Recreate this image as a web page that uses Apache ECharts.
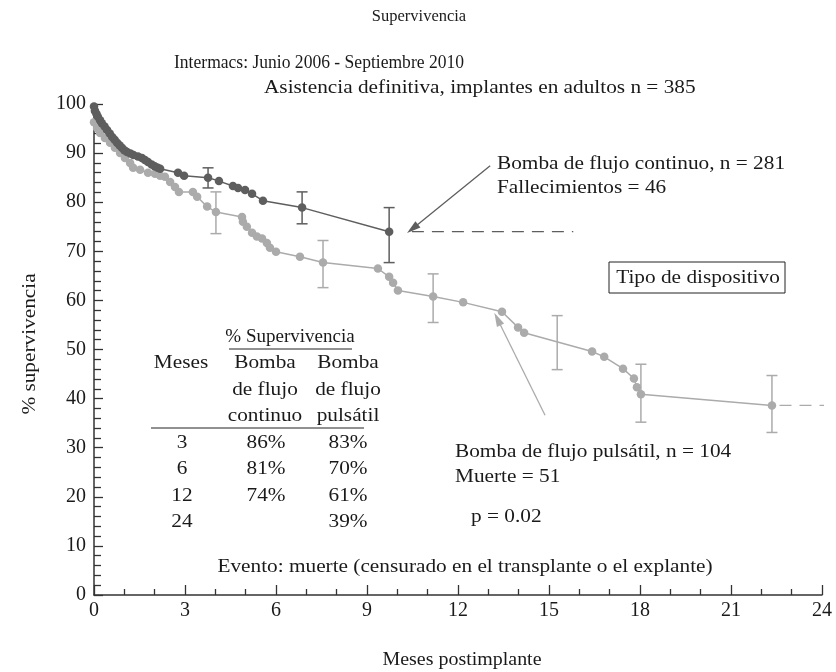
<!DOCTYPE html>
<html>
<head>
<meta charset="utf-8">
<title>Supervivencia</title>
<script src="https://cdn.jsdelivr.net/npm/echarts@6/dist/echarts.min.js"></script>
<style>
  html, body { margin: 0; padding: 0; background: #fff; }
  #chartmain { width: 836px; height: 672px; }
</style>
</head>
<body>
<div id="chartmain"></div>
<script>
// datos
var contX = [0, 0.03, 0.08, 0.13, 0.2, 0.26, 0.35, 0.43, 0.52, 0.6, 0.68, 0.76, 0.84, 0.92, 1.0, 1.09, 1.2, 1.3, 1.45, 1.58, 1.68, 1.78, 1.9, 2.0, 2.1, 2.18, 2.77, 2.97, 3.76, 4.12, 4.58, 4.75, 4.98, 5.21, 5.57, 6.86, 9.73];
var contY = [99.5, 98.6, 98.0, 97.4, 96.7, 96.1, 95.4, 94.7, 94.0, 93.3, 92.7, 92.1, 91.6, 91.1, 90.6, 90.2, 89.9, 89.6, 89.3, 89.0, 88.6, 88.2, 87.7, 87.3, 87.0, 86.8, 86.0, 85.4, 85.0, 84.3, 83.3, 82.9, 82.5, 81.7, 80.3, 78.9, 74.0];

var pulsX = [0, 0.1, 0.2, 0.36, 0.53, 0.69, 0.86, 1.02, 1.19, 1.29, 1.52, 1.78, 2.01, 2.18, 2.34, 2.51, 2.67, 2.8, 3.26, 3.4, 3.73, 4.02, 4.88, 4.91, 5.04, 5.21, 5.37, 5.54, 5.7, 5.8, 6.0, 6.79, 7.55, 9.36, 9.73, 9.86, 10.02, 11.18, 12.17, 13.45, 13.98, 14.18, 16.42, 16.82, 17.44, 17.8, 17.9, 18.03, 22.35];
var pulsY = [96.3, 95.1, 94.1, 93.1, 92.1, 91.1, 90.0, 89.0, 88.0, 87.0, 86.6, 86.0, 85.8, 85.4, 85.2, 84.1, 83.1, 82.1, 82.1, 81.1, 79.1, 78.0, 77.0, 76.0, 75.0, 73.8, 73.0, 72.6, 71.7, 70.7, 69.9, 68.9, 67.7, 66.5, 64.8, 63.6, 62.0, 60.8, 59.6, 57.7, 54.5, 53.4, 49.6, 48.5, 46.1, 44.1, 42.3, 40.9, 38.6];

// intervalos de confianza
var contErrX = [3.76, 6.86, 9.73];
var contErrLo = [82.9, 75.6, 67.7];
var contErrHi = [87.0, 82.1, 78.9];
var pulsErrX = [4.02, 7.55, 11.18, 15.27, 18.03, 22.35];
var pulsErrLo = [73.6, 62.6, 55.5, 45.9, 35.2, 33.1];
var pulsErrHi = [82.1, 72.2, 65.4, 56.9, 47.0, 44.7];

// continuacion discontinua
var contDashX = [10.48, 15.8];
var contDashY = [74.0, 74.0];
var pulsDashX = [22.6, 24.2];
var pulsDashY = [38.6, 38.6];

// flechas [x inicio, y inicio, x fin, y fin]
var contArrow = [13.06, 87.4, 10.5, 74.6];
var pulsArrow = [14.87, 36.6, 13.3, 56.2];

// tabla
var tablaMeses = ['3', '6', '12', '24'];
var tablaContinuo = ['86%', '81%', '74%', ''];
var tablaPulsatil = ['83%', '70%', '61%', '39%'];

var DARK = '#5e5e5e';
var LIGHT = '#ababab';
var FONT = '"Liberation Serif", "DejaVu Serif", serif';
var FS = 19;
var SX = 1.12;   // el texto del original es algo mas ancho

function pares(xs, ys) {
    return xs.map(function (x, i) { return [x, ys[i]]; });
}
function barras(xs, lo, hi) {
    return xs.map(function (x, i) { return [x, lo[i], hi[i]]; });
}

function errorBar(color) {
    return function (params, api) {
        var x = api.value(0);
        var top = api.coord([x, api.value(2)]);
        var bot = api.coord([x, api.value(1)]);
        var w = 5.5;
        var st = { stroke: color, lineWidth: 1.5 };
        return {
            type: 'group',
            children: [
                { type: 'line', shape: { x1: top[0], y1: top[1], x2: bot[0], y2: bot[1] }, style: st },
                { type: 'line', shape: { x1: top[0] - w, y1: top[1], x2: top[0] + w, y2: top[1] }, style: st },
                { type: 'line', shape: { x1: bot[0] - w, y1: bot[1], x2: bot[0] + w, y2: bot[1] }, style: st }
            ]
        };
    };
}

function texto(txt, x, y, align, size, sx) {
    return {
        type: 'text', x: x, y: y,
        scaleX: sx || SX,
        style: { text: txt, font: (size || FS) + 'px ' + FONT, fill: '#1a1a1a', textAlign: align || 'left', textVerticalAlign: 'middle' }
    };
}

var myChart = echarts.init(document.getElementById('chartmain'));

var graficos = [
    texto('Supervivencia', 419, 17, 'center', 17, 0.97),
    texto('Intermacs: Junio 2006 - Septiembre 2010', 174, 63, 'left', 18, 0.975),
    texto('Asistencia definitiva, implantes en adultos n = 385', 264, 88),
    texto('Bomba de flujo continuo, n = 281', 497, 164),
    texto('Fallecimientos = 46', 497, 188),
    texto('Tipo de dispositivo', 698, 278, 'center'),
    { type: 'rect', shape: { x: 609, y: 262, width: 176, height: 31 }, style: { fill: 'none', stroke: '#222', lineWidth: 1 } },
    texto('Bomba de flujo pulsátil, n = 104', 455, 452),
    texto('Muerte = 51', 455, 477),
    texto('p = 0.02', 471, 517),
    texto('Evento: muerte (censurado en el transplante o el explante)', 465, 567, 'center'),
    // nombres de los ejes
    texto('Meses postimplante', 462, 660, 'center', FS, 1.05),
    {
        type: 'text', x: 30, y: 344, rotation: Math.PI / 2, scaleX: SX,
        style: { text: '% supervivencia', font: FS + 'px ' + FONT, fill: '#1a1a1a', textAlign: 'center', textVerticalAlign: 'middle' }
    },
    // cabecera de la tabla
    texto('% Supervivencia', 290, 337, 'center', FS, 1.0),
    { type: 'line', shape: { x1: 229, y1: 349, x2: 352, y2: 349 }, style: { stroke: '#222', lineWidth: 1 } },
    texto('Meses', 181, 363, 'center'),
    texto('Bomba', 265, 363, 'center'),
    texto('de flujo', 265, 390, 'center'),
    texto('continuo', 265, 416, 'center'),
    texto('Bomba', 348, 363, 'center'),
    texto('de flujo', 348, 390, 'center'),
    texto('pulsátil', 348, 416, 'center'),
    { type: 'line', shape: { x1: 151, y1: 428, x2: 364, y2: 428 }, style: { stroke: '#222', lineWidth: 1 } }
];
tablaMeses.forEach(function (m, i) {
    var y = 443 + i * 26.3;
    graficos.push(texto(m, 182, y, 'center'));
    if (tablaContinuo[i]) graficos.push(texto(tablaContinuo[i], 266, y, 'center'));
    graficos.push(texto(tablaPulsatil[i], 348, y, 'center'));
});

var option = {
    backgroundColor: '#fff',
    animation: false,
    textStyle: { fontFamily: FONT },
    grid: { left: 94, right: 14, top: 104, bottom: 77, containLabel: false },
    xAxis: {
        type: 'value',
        min: 0, max: 24, interval: 3,
        axisLine: { onZero: false, lineStyle: { color: '#333', width: 1.5 } },
        axisTick: { inside: true, length: 10, lineStyle: { color: '#333', width: 1.3 } },
        minorTick: { show: true, splitNumber: 3, length: 6, lineStyle: { color: '#333', width: 1.3 } },
        axisLabel: { fontFamily: FONT, fontSize: 20, color: '#1a1a1a', margin: 6 },
        splitLine: { show: false }
    },
    yAxis: {
        type: 'value',
        min: 0, max: 100, interval: 10,
        axisLine: { show: true, onZero: false, lineStyle: { color: '#333', width: 1.5 } },
        axisTick: { show: true, inside: true, length: 9, lineStyle: { color: '#333', width: 1.3 } },
        minorTick: { show: true, splitNumber: 5, length: 7, lineStyle: { color: '#333', width: 1.3 } },
        axisLabel: { fontFamily: FONT, fontSize: 20, color: '#1a1a1a', margin: 8 },
        splitLine: { show: false }
    },
    series: [
        {
            name: 'Bomba de flujo continuo (discontinua)',
            type: 'line',
            data: pares(contDashX, contDashY),
            showSymbol: false,
            clip: false,
            lineStyle: { color: DARK, width: 1.3, type: [12, 8] },
            z: 2
        },
        {
            name: 'Bomba de flujo pulsátil (discontinua)',
            type: 'line',
            data: pares(pulsDashX, pulsDashY),
            showSymbol: false,
            clip: false,
            lineStyle: { color: LIGHT, width: 1.3, type: [12, 8] },
            z: 2
        },
        {
            name: 'IC continuo',
            type: 'custom',
            data: barras(contErrX, contErrLo, contErrHi),
            renderItem: errorBar(DARK),
            encode: { x: 0, y: [1, 2] },
            z: 3
        },
        {
            name: 'IC pulsátil',
            type: 'custom',
            data: barras(pulsErrX, pulsErrLo, pulsErrHi),
            renderItem: errorBar(LIGHT),
            encode: { x: 0, y: [1, 2] },
            z: 3
        },
        {
            name: 'Bomba de flujo pulsátil',
            type: 'line',
            data: pares(pulsX, pulsY),
            symbol: 'circle',
            symbolSize: 8.5,
            itemStyle: { color: LIGHT },
            lineStyle: { color: LIGHT, width: 1.5 },
            z: 4,
            markLine: {
                silent: true,
                symbol: ['none', 'triangle'],
                symbolSize: [8, 14],
                label: { show: false },
                lineStyle: { color: LIGHT, width: 1.3, type: 'solid' },
                data: [[{ coord: [pulsArrow[0], pulsArrow[1]] }, { coord: [pulsArrow[2], pulsArrow[3]] }]]
            }
        },
        {
            name: 'Bomba de flujo continuo',
            type: 'line',
            data: pares(contX, contY),
            symbol: 'circle',
            symbolSize: 8.5,
            itemStyle: { color: DARK },
            lineStyle: { color: DARK, width: 1.5 },
            z: 5,
            markLine: {
                silent: true,
                symbol: ['none', 'triangle'],
                symbolSize: [8, 14],
                label: { show: false },
                lineStyle: { color: DARK, width: 1.3, type: 'solid' },
                data: [[{ coord: [contArrow[0], contArrow[1]] }, { coord: [contArrow[2], contArrow[3]] }]]
            }
        }
    ],
    graphic: graficos
};

myChart.setOption(option);
</script>
</body>
</html>
